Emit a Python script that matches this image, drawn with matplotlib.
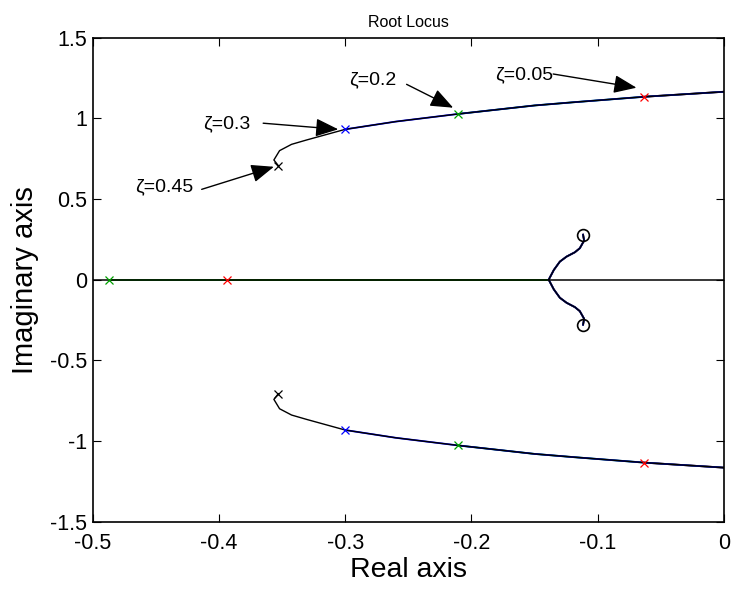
import matplotlib
matplotlib.use("Agg")
import matplotlib.pyplot as plt
import numpy as np

plt.rcParams['font.family'] = ['Liberation Sans', 'DejaVu Sans']

# upper complex branch (shared by all four systems), lower is its mirror
locus_x = [-0.353, -0.3565, -0.352, -0.3425, -0.3306, -0.300, -0.26, -0.211, -0.15, -0.119, -0.063, 0.0]
locus_y = [0.707, 0.742, 0.800, 0.839, 0.866, 0.932, 0.980, 1.027, 1.080, 1.100, 1.134, 1.165]

# branch from the real-axis breakaway point to the complex zero
zbranch_x = [-0.1387, -0.1348, -0.130, -0.1247, -0.1181, -0.1142, -0.1108, -0.1116]
zbranch_y = [0.002, 0.060, 0.112, 0.143, 0.170, 0.195, 0.242, 0.279]

zero_x, zero_y = -0.1116, 0.279
breakaway_x = -0.1387

# one system per damping ratio
systems = ['0.45', '0.3', '0.2', '0.05']
colors = ['k', 'b', '#00a000', 'r']
pole_re = [-0.353, -0.300, -0.211, -0.063]
pole_im = [0.707, 0.932, 1.027, 1.134]
real_pole = [None, None, -0.487, -0.394]

# annotation text (left edge) and arrow tail / tip
label_xy = [(-0.4665, 0.573), (-0.4129, 0.967), (-0.2968, 1.238), (-0.1815, 1.269)]
tail_xy = [(-0.4137, 0.560), (-0.365, 0.970), (-0.2514, 1.211), (-0.1353, 1.275)]
tip_xy = [(-0.3565, 0.700), (-0.3055, 0.932), (-0.2145, 1.066), (-0.0693, 1.190)]

fig = plt.figure(figsize=(7.33, 5.90), dpi=100)
ax = fig.add_axes([0.1265, 0.1158, 0.8612, 0.8203])

lx = np.array(locus_x)
ly = np.array(locus_y)

# real axis line, on top of the coloured real-axis branches
ax.axhline(0, color='k', lw=1.1, zorder=4.5)

# red lowest, then green, blue, black on top
for i in [3, 2, 1, 0]:
    c = colors[i]
    lw = 1.0 if c == 'k' else 1.3
    z = 4 if c == 'k' else 2 + 0.1 * (3 - i)
    if c == 'k':
        bx, by = lx, ly
    else:
        m = (lx > pole_re[i]) & (np.arange(len(lx)) >= 2)
        bx = np.r_[pole_re[i], lx[m]]
        by = np.r_[pole_im[i], ly[m]]
    ax.plot(bx, by, color=c, lw=lw, zorder=z)
    ax.plot(bx, -by, color=c, lw=lw, zorder=z)
    ax.plot(zbranch_x, zbranch_y, color=c, lw=lw, zorder=z)
    ax.plot(zbranch_x, -np.array(zbranch_y), color=c, lw=lw, zorder=z)
    if real_pole[i] is not None:
        ax.plot([real_pole[i], breakaway_x], [0, 0], color=c, lw=lw, zorder=z)
        ax.plot(real_pole[i], 0, 'x', color=c, ms=6, mew=0.9, zorder=5)
    ax.plot([pole_re[i], pole_re[i]], [pole_im[i], -pole_im[i]], 'x',
            color=c, ms=6, mew=0.9, zorder=5)

ax.plot([zero_x, zero_x], [zero_y, -zero_y], 'o', mfc='none', mec='k',
        ms=8.5, mew=1.2, zorder=6)

for i in range(len(systems)):
    ax.text(label_xy[i][0], label_xy[i][1], '\u03b6=' + systems[i],
            fontsize=14, ha='left', va='center')
    ax.annotate('', xy=tip_xy[i], xytext=tail_xy[i],
                arrowprops=dict(arrowstyle='-|>,head_length=0.7,head_width=0.28',
                                color='k', lw=1.0, mutation_scale=20,
                                shrinkA=0, shrinkB=0))

ax.set_xlim(-0.5, 0)
ax.set_ylim(-1.5, 1.5)
ax.set_xticks(np.arange(-0.5, 0.01, 0.1))
ax.set_yticks(np.arange(-1.5, 1.51, 0.5))
ax.set_xticklabels(['-0.5', '-0.4', '-0.3', '-0.2', '-0.1', '0'])
ax.set_yticklabels(['-1.5', '-1', '-0.5', '0', '0.5', '1', '1.5'])
ax.tick_params(direction='in', top=True, right=True, length=6, width=0.8,
               labelsize=15.5)
ax.tick_params(axis='x', pad=8)
ax.tick_params(axis='y', pad=4)
for s in ax.spines.values():
    s.set_linewidth(1.2)

ax.set_xlabel('Real axis', fontsize=20.5, labelpad=2)
ax.set_ylabel('Imaginary axis', fontsize=21, labelpad=8)
ax.set_title('Root Locus', fontsize=11.5, pad=8)

fig.savefig('out.png', dpi=100)
